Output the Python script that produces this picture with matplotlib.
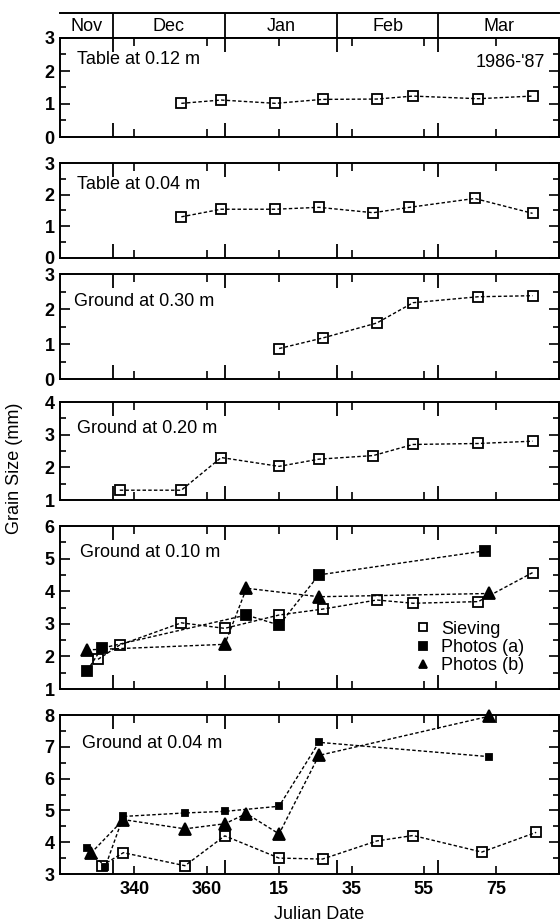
import matplotlib
matplotlib.use("Agg")
import matplotlib.pyplot as plt
from matplotlib.ticker import MultipleLocator

plt.rcParams['font.family'] = ['Liberation Sans', 'DejaVu Sans']

# Julian date axis runs continuously across the new year (Jan 15 -> 380)
X_LO, X_HI = 319.5, 457.3
label_days = [340, 360, 380, 400, 420, 440]
label_text = ['340', '360', '15', '35', '55', '75']
month_edges = [334, 365, 396, 424]
month_names = ['Nov', 'Dec', 'Jan', 'Feb', 'Mar']

# Table at 0.12 m
t12_day = [353, 364, 379, 392, 407, 417, 435, 450]
t12_val = [1.02, 1.12, 1.02, 1.14, 1.15, 1.24, 1.16, 1.24]

# Table at 0.04 m
t04_day = [353, 364, 379, 391, 406, 416, 434, 450]
t04_val = [1.30, 1.54, 1.54, 1.60, 1.43, 1.60, 1.88, 1.41]

# Ground at 0.30 m
g30_day = [380, 392, 407, 417, 435, 450]
g30_val = [0.87, 1.17, 1.60, 2.18, 2.35, 2.38]

# Ground at 0.20 m
g20_day = [336, 353, 364, 380, 391, 406, 417, 435, 450]
g20_val = [1.30, 1.30, 2.30, 2.03, 2.25, 2.36, 2.70, 2.73, 2.80]

# Ground at 0.10 m
g10_sieve_day = [330, 336, 353, 365, 380, 392, 407, 417, 435, 450]
g10_sieve_val = [1.91, 2.35, 3.03, 2.86, 3.27, 3.45, 3.73, 3.63, 3.68, 4.57]
g10_a_day = [327, 331, 371, 380, 391, 437]
g10_a_val = [1.56, 2.25, 3.27, 2.96, 4.50, 5.24]
g10_b_day = [327, 365, 371, 391, 438]
g10_b_val = [2.20, 2.37, 4.09, 3.83, 3.93]

# Ground at 0.04 m
g04_sieve_day = [331, 337, 354, 365, 380, 392, 407, 417, 436, 451]
g04_sieve_val = [3.26, 3.67, 3.26, 4.20, 3.50, 3.47, 4.04, 4.21, 3.69, 4.31]
g04_a_day = [327, 332, 337, 354, 365, 380, 391, 438]
g04_a_val = [3.81, 3.23, 4.81, 4.92, 4.97, 5.13, 7.14, 6.69]
g04_b_day = [328, 337, 354, 365, 371, 380, 391, 438]
g04_b_val = [3.65, 4.71, 4.42, 4.58, 4.90, 4.26, 6.73, 7.96]

W, H = 560, 922
fig = plt.figure(figsize=(W / 100, H / 100), dpi=100)

def box(top, bottom, left=60, right=559):
    return [left / W, 1 - bottom / H, (right - left) / W, (bottom - top) / H]

FS = 13
DOT = (0, (2.5, 1.6))


def setup(ax, ylo, yhi, bottom_labels=False):
    ax.set_xlim(X_LO, X_HI)
    ax.set_ylim(ylo, yhi)
    ax.set_xticks(label_days)
    ax.set_xticks(month_edges, minor=True)
    if bottom_labels:
        ax.set_xticklabels(label_text, fontsize=FS, fontweight='bold')
    ax.tick_params(axis='x', which='major', direction='in', length=6, width=1.2,
                   top=True, bottom=True, labelbottom=bottom_labels, pad=5)
    ax.tick_params(axis='x', which='minor', direction='in', length=10, width=1.3,
                   top=True, bottom=True)
    ax.yaxis.set_major_locator(MultipleLocator(1))
    ax.yaxis.set_minor_locator(MultipleLocator(0.5))
    ax.tick_params(axis='y', which='major', direction='in', length=7, width=1.2,
                   left=True, right=True, labelsize=FS, pad=4)
    ax.tick_params(axis='y', which='minor', direction='in', length=4, width=1.2,
                   left=True, right=True)
    for lab in ax.get_yticklabels():
        lab.set_fontweight('bold')
    for s in ax.spines.values():
        s.set_linewidth(1.4)


def series(ax, d, v, marker, fill, ms, label=None):
    ax.plot(d, v, ls=DOT, lw=1.0, color='k', marker=marker, ms=ms,
            mfc=fill, mec='k', mew=1.3, clip_on=False, label=label)


# month header strip
hdr = fig.add_axes(box(13, 38))
hdr.set_xlim(X_LO, X_HI)
hdr.set_ylim(0, 1)
hdr.set_xticks([])
hdr.set_yticks([])
hdr.spines['left'].set_visible(False)
hdr.spines['right'].set_visible(False)
for s in ('top', 'bottom'):
    hdr.spines[s].set_linewidth(1.4)
for m in month_edges:
    hdr.axvline(m, color='k', lw=1.3)
bounds = [X_LO] + month_edges + [X_HI]
for i, name in enumerate(month_names):
    hdr.text((bounds[i] + bounds[i + 1]) / 2, 0.45, name, ha='center', va='center',
             fontsize=FS)

# Table at 0.12 m
ax1 = fig.add_axes(box(38, 137))
setup(ax1, 0, 3)
series(ax1, t12_day, t12_val, 's', 'none', 7)
ax1.text(0.034, 0.78, 'Table at 0.12 m', transform=ax1.transAxes, fontsize=FS, va='center')
ax1.text(0.972, 0.75, "1986-'87", transform=ax1.transAxes, fontsize=FS, va='center', ha='right')

# Table at 0.04 m
ax2 = fig.add_axes(box(163, 258))
setup(ax2, 0, 3)
series(ax2, t04_day, t04_val, 's', 'none', 7)
ax2.text(0.034, 0.77, 'Table at 0.04 m', transform=ax2.transAxes, fontsize=FS, va='center')

# Ground at 0.30 m
ax3 = fig.add_axes(box(274, 379))
setup(ax3, 0, 3)
series(ax3, g30_day, g30_val, 's', 'none', 7)
ax3.text(0.028, 0.74, 'Ground at 0.30 m', transform=ax3.transAxes, fontsize=FS, va='center')

# Ground at 0.20 m
ax4 = fig.add_axes(box(402, 500))
setup(ax4, 1, 4)
series(ax4, g20_day, g20_val, 's', 'none', 7)
ax4.text(0.034, 0.73, 'Ground at 0.20 m', transform=ax4.transAxes, fontsize=FS, va='center')

# Ground at 0.10 m
ax5 = fig.add_axes(box(526, 689))
setup(ax5, 1, 6)
series(ax5, g10_sieve_day, g10_sieve_val, 's', 'none', 7, 'Sieving')
series(ax5, g10_a_day, g10_a_val, 's', 'k', 7, 'Photos (a)')
series(ax5, g10_b_day, g10_b_val, '^', 'k', 8, 'Photos (b)')
ax5.text(0.04, 0.835, 'Ground at 0.10 m', transform=ax5.transAxes, fontsize=FS, va='center')
leg = ax5.legend(loc='upper left', bbox_to_anchor=(0.71, 0.42), frameon=False,
                 fontsize=FS, handlelength=1.0, handletextpad=0.5, labelspacing=0.08,
                 borderpad=0, borderaxespad=0, markerscale=0.8)
for h in leg.legend_handles:
    h.set_linestyle('none')

# Ground at 0.04 m
ax6 = fig.add_axes(box(715, 874))
setup(ax6, 3, 8, bottom_labels=True)
series(ax6, g04_sieve_day, g04_sieve_val, 's', 'none', 7)
series(ax6, g04_a_day, g04_a_val, 's', 'k', 5)
series(ax6, g04_b_day, g04_b_val, '^', 'k', 8)
ax6.text(0.044, 0.82, 'Ground at 0.04 m', transform=ax6.transAxes, fontsize=FS, va='center')

fig.text(319 / W, 1 - 914 / H, 'Julian Date', ha='center', va='center', fontsize=FS)
fig.text(15 / W, 1 - 468 / H, 'Grain Size (mm)', ha='center', va='center',
         fontsize=FS, rotation=90)

fig.savefig('out.png', dpi=100)
